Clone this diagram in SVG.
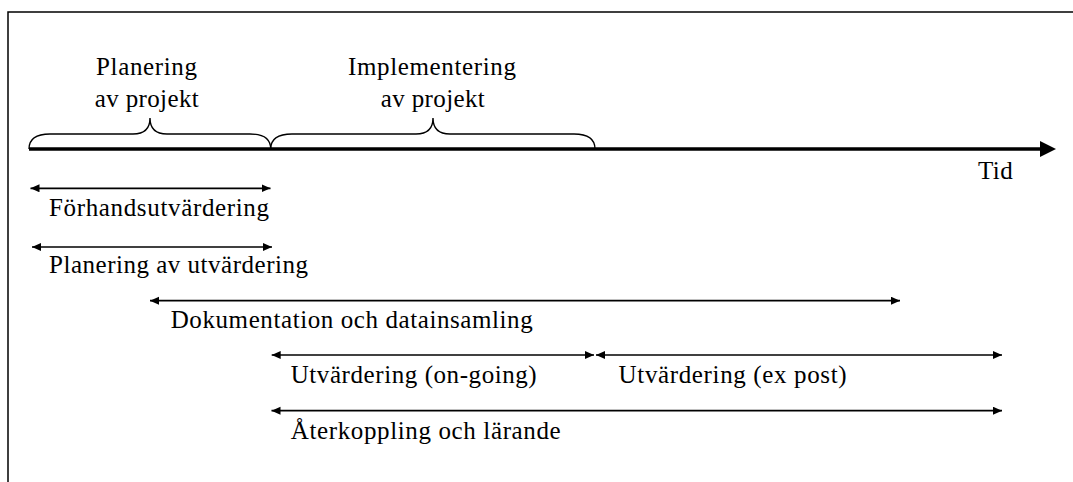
<svg xmlns="http://www.w3.org/2000/svg" width="1073" height="482" viewBox="0 0 1073 482">
<style>
  text { font-family: "Liberation Serif", "Times New Roman", serif; font-size: 25px; fill: #000; }
  .mid { text-anchor: middle; }
  .frame { fill: none; stroke: #000; stroke-width: 1.5; }
  .brace { fill: none; stroke: #000; stroke-width: 1.4; }
  .axis { fill: none; stroke: #000; stroke-width: 3.5; }
  .span { fill: none; stroke: #000; stroke-width: 1.7; marker-start: url(#ah); marker-end: url(#ah); }
</style>
<defs>
  <marker id="ah" markerUnits="userSpaceOnUse" markerWidth="10" markerHeight="9" refX="9" refY="4" orient="auto-start-reverse" viewBox="0 0 10 9">
    <path d="M0,0 L9,4 L0,8 z" fill="#000"/>
  </marker>
</defs>
<rect width="1073" height="482" fill="#fff"/>
<path class="frame" d="M8,482 L8,12 L1073,12"/>

<g id="connectors">
  <line class="axis" x1="29" y1="149" x2="1042" y2="149"/>
  <path d="M1040,141 L1056,149 L1040,157 z" fill="#000"/>
  <line class="span" x1="30.5" y1="188.3" x2="270.5" y2="188.3"/>
  <line class="span" x1="32" y1="247" x2="272" y2="247"/>
  <line class="span" x1="150" y1="300.7" x2="900" y2="300.7"/>
  <line class="span" x1="271.7" y1="355" x2="594" y2="355"/>
  <line class="span" x1="596" y1="355" x2="1002" y2="355"/>
  <line class="span" x1="271.5" y1="410.7" x2="1002" y2="410.7"/>
</g>

<g id="planering-projekt">
  <path class="brace" d="M29,149 C29,138 38,134 50,134 L133,134 C143,134 150,130 150,118 C150,130 157,134 167,134 L250,134 C262,134 270.7,138 270.7,149"/>
  <text class="mid" x="146.5" y="75" textLength="101" lengthAdjust="spacing">Planering</text>
  <text class="mid" x="146.7" y="107" textLength="104" lengthAdjust="spacing">av projekt</text>
</g>

<g id="implementering-projekt">
  <path class="brace" d="M270.7,149 C270.7,138 280,134 292,134 L416,134 C426,134 433,130 433,118 C433,130 440,134 450,134 L574,134 C586,134 595,138 595,149"/>
  <text class="mid" x="432" y="75" textLength="168" lengthAdjust="spacing">Implementering</text>
  <text class="mid" x="432.8" y="107" textLength="104" lengthAdjust="spacing">av projekt</text>
</g>

<g id="tid">
  <text x="978" y="179.3" textLength="34.7" lengthAdjust="spacing">Tid</text>
</g>

<g id="forhandsutvardering">
  <text x="49" y="216.3" textLength="220" lengthAdjust="spacing">Förhandsutvärdering</text>
</g>

<g id="planering-utvardering">
  <text x="49" y="273" textLength="259" lengthAdjust="spacing">Planering av utvärdering</text>
</g>

<g id="dokumentation">
  <text x="170.7" y="328" textLength="362" lengthAdjust="spacing">Dokumentation och datainsamling</text>
</g>

<g id="utvardering-ongoing">
  <text x="290.7" y="383.3" textLength="246" lengthAdjust="spacing">Utvärdering (on-going)</text>
</g>

<g id="utvardering-expost">
  <text x="618.6" y="383.3" textLength="228" lengthAdjust="spacing">Utvärdering (ex post)</text>
</g>

<g id="aterkoppling">
  <text x="290.7" y="439" textLength="270" lengthAdjust="spacing">Återkoppling och lärande</text>
</g>
</svg>
